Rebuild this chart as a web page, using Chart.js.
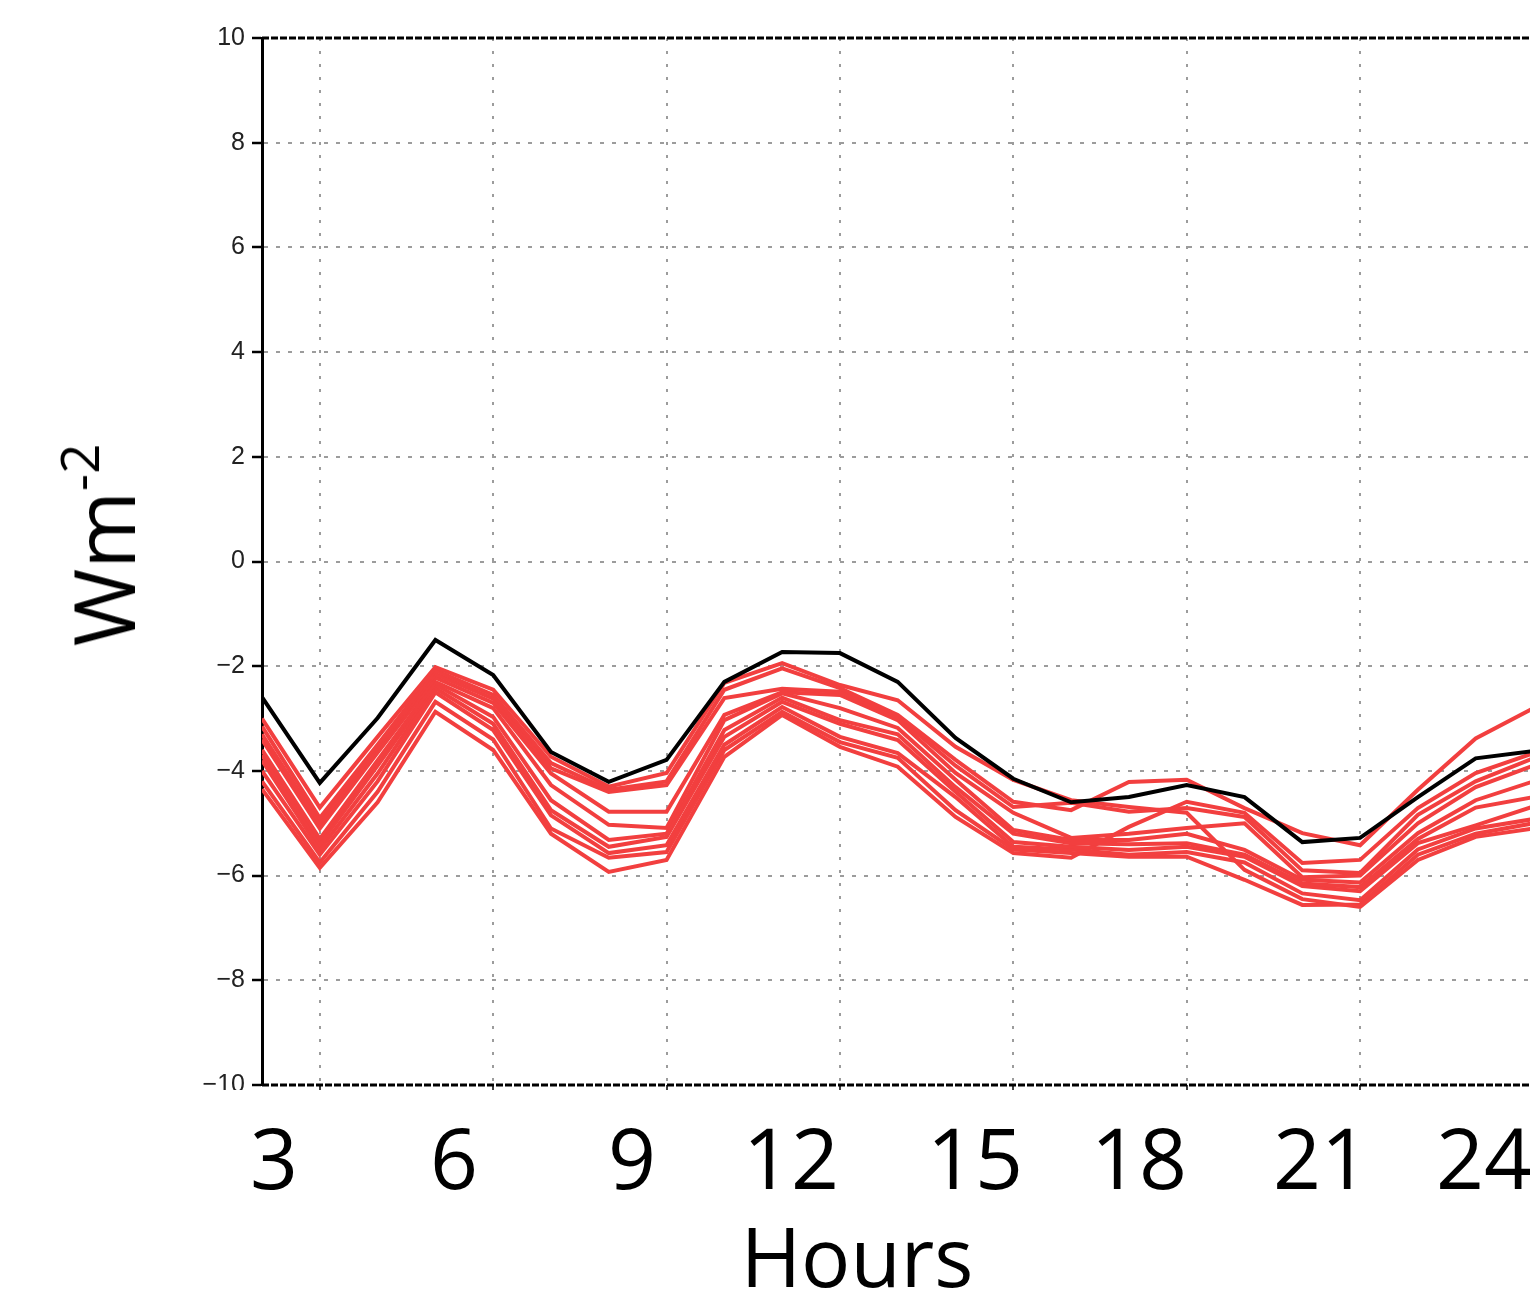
<!DOCTYPE html>
<html>
<head>
<meta charset="utf-8">
<script src="https://cdn.jsdelivr.net/npm/chart.js@4.4.1/dist/chart.umd.min.js"></script>
<style>
  html, body { margin: 0; padding: 0; background: #fff; overflow: hidden; }
  #wrap { position: relative; width: 1530px; height: 1291px; }
  #c { position: absolute; left: 0; top: 0; }
  #cover { position: absolute; left: 0; top: 1090px; width: 1530px; height: 201px; background: #fff; }
  .big { position: absolute; font-family: 'Open Sans', sans-serif; font-size: 84px; line-height: 1; color: #000; white-space: nowrap; transform: translateX(-50%); }
  #ylab { position: absolute; left: 103px; top: 545px; font-family: 'Open Sans', sans-serif; font-size: 84px; line-height: 1; white-space: nowrap; transform: translate(-50%, -50%) rotate(-90deg); }
  #ylab span { position: relative; top: -36px; font-size: 53px; }
</style>
</head>
<body>
<div id="wrap">
  <canvas id="c" width="1530" height="1291"></canvas>
  <div id="cover"></div>
  <div id="ylab">Wm<span>-2</span></div>
</div>
<script>
// ---- data (time step index; values in W m^-2) ----
const steps = [0,1,2,3,4,5,6,7,8,9,10,11,12,13,14,15,16,17,18,19,20,21,22];
const blackSeries = [-2.59,-4.23,-2.99,-1.50,-2.17,-3.64,-4.21,-3.79,-2.30,-1.73,-1.75,-2.30,-3.37,-4.15,-4.60,-4.50,-4.27,-4.50,-5.36,-5.28,-4.50,-3.76,-3.62];
const red1  = [-3.00,-4.70,-3.35,-2.02,-2.45,-3.73,-4.30,-4.04,-2.32,-1.94,-2.36,-2.65,-3.54,-4.17,-4.56,-4.69,-4.80,-5.89,-6.45,-6.60,-5.70,-5.26,-5.10];
const red2  = [-3.15,-4.90,-3.50,-2.08,-2.55,-3.85,-4.36,-4.20,-2.45,-2.04,-2.42,-2.93,-3.79,-4.59,-4.75,-4.21,-4.17,-4.71,-5.19,-5.42,-4.36,-3.38,-2.80];
const red3  = [-3.30,-5.00,-3.55,-2.15,-2.62,-3.95,-4.40,-4.27,-2.61,-2.43,-2.49,-2.97,-3.90,-4.69,-4.61,-4.78,-4.71,-4.88,-5.90,-5.95,-4.84,-4.20,-3.76];
const red4  = [-3.40,-5.10,-3.65,-2.22,-2.70,-4.05,-4.78,-4.78,-2.93,-2.50,-2.55,-3.03,-4.04,-4.80,-5.28,-5.20,-5.09,-5.00,-6.03,-6.00,-5.00,-4.31,-3.90];
const red5  = [-3.60,-5.30,-3.80,-2.30,-2.80,-4.27,-5.03,-5.09,-3.03,-2.52,-2.80,-3.18,-4.17,-5.13,-5.32,-5.32,-5.20,-5.51,-6.08,-6.13,-5.19,-4.56,-4.20];
const red6  = [-3.70,-5.40,-3.90,-2.35,-2.97,-4.56,-5.32,-5.20,-3.22,-2.60,-3.03,-3.30,-4.31,-5.20,-5.38,-5.40,-5.38,-5.60,-6.15,-6.22,-5.30,-4.70,-4.50];
const red7  = [-3.80,-5.50,-4.05,-2.42,-3.10,-4.75,-5.45,-5.26,-3.35,-2.68,-3.10,-3.41,-4.40,-5.36,-5.45,-5.51,-5.45,-5.64,-6.20,-6.30,-5.38,-5.04,-4.68];
const red8  = [-4.00,-5.60,-4.20,-2.50,-3.22,-4.85,-5.57,-5.42,-3.50,-2.78,-3.35,-3.66,-4.50,-5.45,-5.50,-5.60,-5.55,-5.75,-6.34,-6.47,-5.50,-5.10,-4.92];
const red9  = [-4.20,-5.75,-4.40,-2.68,-3.40,-5.10,-5.66,-5.55,-3.60,-2.87,-3.45,-3.75,-4.75,-5.50,-5.57,-5.64,-5.64,-6.08,-6.56,-6.55,-5.60,-5.20,-5.00];
const red10 = [-4.35,-5.85,-4.60,-2.87,-3.60,-5.20,-5.93,-5.70,-3.73,-2.93,-3.54,-3.92,-4.88,-5.57,-5.66,-5.07,-4.59,-4.80,-5.76,-5.70,-4.71,-4.04,-3.66];
const redSeries = [red1, red2, red3, red4, red5, red6, red7, red8, red9, red10];
const gridSteps = [1,4,7,10,13,16,19];
const yTickValues = [10,8,6,4,2,0,-2,-4,-6,-8,-10];
const hourLabels = ['3','6','9','12','15','18','21','24'];
const hourLabelX = [274,454,632,791,975,1139,1321,1484];
const xTitle = 'Hours';

// ---- overlay text ----
const cover = document.getElementById('cover');
hourLabels.forEach((t, i) => {
  const d = document.createElement('div');
  d.className = 'big';
  d.textContent = t;
  d.style.left = hourLabelX[i] + 'px';
  d.style.top = (1115 - 1090) + 'px';
  cover.appendChild(d);
});
const ht = document.createElement('div');
ht.className = 'big';
ht.textContent = xTitle;
ht.style.left = '857px';
ht.style.fontSize = '82px';
ht.style.top = (1214 - 1090) + 'px';
cover.appendChild(ht);

// ---- chart ----
const toPts = arr => arr.map((v, i) => ({x: steps[i], y: v}));
const datasets = [{
  data: toPts(blackSeries), borderColor: '#000000', borderWidth: 4,
  pointRadius: 0, tension: 0, fill: false
}].concat(redSeries.map(s => ({
  data: toPts(s), borderColor: '#f23f3f', borderWidth: 4,
  pointRadius: 0, tension: 0, fill: false
})));

const isEdge = ctx => ctx.tick && (ctx.tick.value === 10 || ctx.tick.value === -10);

// dashed black frame lines along top and bottom of the plot area
const framePlugin = {
  id: 'frame',
  beforeDatasetsDraw(chart) {
    const {ctx, chartArea: a} = chart;
    ctx.save();
    ctx.strokeStyle = '#000';
    ctx.lineWidth = 3;
    ctx.setLineDash([7, 2]);
    ctx.beginPath();
    ctx.moveTo(a.left, a.top); ctx.lineTo(a.right, a.top);
    ctx.moveTo(a.left, a.bottom); ctx.lineTo(a.right, a.bottom);
    ctx.stroke();
    ctx.restore();
  }
};

new Chart(document.getElementById('c'), {
  type: 'line',
  data: { datasets },
  plugins: [framePlugin],
  options: {
    responsive: false,
    animation: false,
    events: [],
    layout: { padding: { top: 38, bottom: 206, left: 0, right: 0 } },
    plugins: { legend: { display: false }, tooltip: { enabled: false }, title: { display: false } },
    scales: {
      x: {
        type: 'linear', min: 0, max: 21.94,
        afterBuildTicks: s => { s.ticks = gridSteps.map(v => ({value: v})); },
        afterFit: s => { s.height = 0; },
        ticks: { display: false },
        border: { display: false, dash: [3, 10] },
        grid: {
          color: '#9c9c9c', lineWidth: 2,
          drawTicks: true, tickLength: 7, tickColor: '#000', tickWidth: 1.5, tickBorderDash: []
        }
      },
      y: {
        type: 'linear', min: -10, max: 10,
        afterBuildTicks: s => { s.ticks = yTickValues.map(v => ({value: v})); },
        afterFit: s => { s.width = 262; },
        ticks: {
          padding: 7,
          color: '#222',
          font: { family: 'Liberation Sans', size: 25 },
          callback: v => (v < 0 ? '\u2212' + Math.abs(v) : String(v))
        },
        border: { display: true, color: '#000', width: 3, dash: [4, 8] },
        grid: {
          color: ctx => isEdge(ctx) ? 'rgba(0,0,0,0)' : '#9c9c9c',
          lineWidth: 2,
          drawTicks: true, tickLength: 10, tickColor: '#000', tickWidth: 2.5, tickBorderDash: []
        }
      }
    }
  }
});
</script>
</body>
</html>
